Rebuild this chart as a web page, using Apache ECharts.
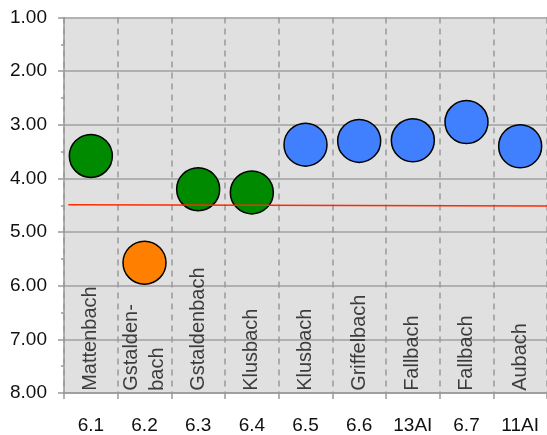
<!DOCTYPE html>
<html>
<head>
<meta charset="utf-8">
<script src="https://cdn.jsdelivr.net/npm/echarts@6/dist/echarts.min.js"></script>
<style>
  html, body { margin: 0; padding: 0; background: #fff; }
  #chart { width: 547px; height: 435px; }
</style>
</head>
<body>
<div id="chart"></div>
<script>
// Kategorien (x-Achse) und Gewässernamen (senkrecht im Diagramm)
var categories = ['6.1', '6.2', '6.3', '6.4', '6.5', '6.6', '13AI', '6.7', '11AI'];
var names = ['Mattenbach', 'Gstalden-\nbach', 'Gstaldenbach', 'Klusbach', 'Klusbach',
  'Griffelbach', 'Fallbach', 'Fallbach', 'Aubach'];
var values = [3.58, 5.57, 4.20, 4.26, 3.37, 3.30, 3.29, 2.95, 3.40];
var colors = ['#008a00', '#ff8000', '#008a00', '#008a00', '#4080ff', '#4080ff', '#4080ff', '#4080ff', '#4080ff'];
// rote Linie (Start / Ende)
var redLine = [[0.08, 4.49], [9, 4.515]];
var labelBase = 7.96;

var font = 'Arial, "Liberation Sans", sans-serif';
var myChart = echarts.init(document.getElementById('chart'));

myChart.setOption({
  animation: false,
  grid: {
    left: 64, top: 17.5, width: 486, height: 378,
    show: true, backgroundColor: '#e0e0e0', borderWidth: 0,
  },
  xAxis: [
    {
      type: 'category',
      data: categories,
      axisLine: { lineStyle: { color: '#999', width: 1.5 } },
      axisTick: { show: true, length: 6, lineStyle: { color: '#999', width: 1.5 } },
      axisLabel: { color: '#111', fontSize: 19, fontFamily: font, margin: 23 },
      splitLine: { show: true, lineStyle: { color: '#999', width: 1.5, type: [6, 5] } },
    },
    {
      type: 'value', min: 0, max: 9, show: false,
    },
  ],
  yAxis: {
    type: 'value',
    inverse: true,
    min: 1, max: 8, interval: 1,
    axisLine: { show: true, lineStyle: { color: '#999', width: 1.5 } },
    axisTick: { show: true, length: 6, lineStyle: { color: '#999', width: 1.5 } },
    minorTick: { show: true, splitNumber: 2, length: 3, lineStyle: { color: '#999', width: 1.5 } },
    axisLabel: {
      color: '#111', fontSize: 19, fontFamily: font, margin: 17,
      lineHeight: 24, padding: [5, 0, 0, 0],
      formatter: function (v) { return v.toFixed(2); },
    },
    splitLine: { show: true, lineStyle: { color: '#a0a0a0', width: 1.5 } },
  },
  series: [
    {
      name: 'labels',
      type: 'scatter',
      symbolSize: 1,
      itemStyle: { color: 'rgba(0,0,0,0)' },
      silent: true,
      z: 1,
      data: names.map(function (n, i) {
        return {
          value: [i, labelBase],
          label: {
            show: true,
            formatter: n,
            position: 'inside',
            rotate: 90,
            align: 'left',
            verticalAlign: 'middle',
            fontSize: 20,
            lineHeight: 26,
            fontFamily: font,
            color: '#111',
          },
        };
      }),
    },
    {
      name: 'Werte',
      type: 'scatter',
      symbolSize: 43,
      z: 2,
      data: values.map(function (v, i) {
        return {
          value: [i, v],
          itemStyle: { color: colors[i], opacity: 1, borderColor: '#000', borderWidth: 1.5 },
        };
      }),
    },
    {
      name: 'Linie',
      type: 'line',
      xAxisIndex: 1,
      symbol: 'none',
      z: 3,
      lineStyle: { color: '#ff2a00', width: 1.5 },
      data: redLine,
    },
  ],
});
</script>
</body>
</html>
